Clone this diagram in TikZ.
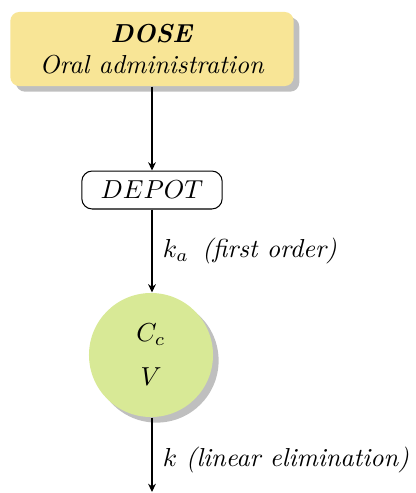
\documentclass[tikz,border=0pt]{standalone}
\usetikzlibrary{shadows,arrows.meta}
\definecolor{doseyellow}{RGB}{248,229,150}
\definecolor{centralgreen}{RGB}{216,233,150}
\begin{document}
\begin{tikzpicture}[x=0.3846pt,y=-0.3846pt,
  dosebox/.style={rectangle, rounded corners=3.5pt, fill=doseyellow,
    drop shadow, minimum width=109pt, minimum height=28.5pt,
    align=center, inner sep=0pt},
  depotbox/.style={rectangle, rounded corners=4pt, draw, thin,
    minimum width=54pt, minimum height=14.6pt, inner sep=0pt},
  compartment/.style={circle, fill=centralgreen, drop shadow,
    minimum size=47.7pt, align=center, inner sep=0pt},
  flow/.style={-{Stealth[length=3.2pt,width=3pt]}, line width=0.4pt},
  ratelabel/.style={right, inner sep=0pt, xshift=4pt}]
\useasboundingbox (0,0) rectangle (416,493);

\node[dosebox] (dose) at (152,49) {\textbf{\textit{DOSE}}\\ \textit{Oral administration}};
\node[depotbox] (depot) at (152,190) {$DEPOT$};
\node[compartment] (central) at (151,355) {$C_c$\\[5pt]$V$};
\coordinate (out) at (152,492);

\draw[flow] (dose.south -| depot.north) -- (depot.north);
\draw[flow] (depot.south) -- (depot.south |- central.north)
  node[ratelabel, midway] {$k_a$\hspace{5pt}\textit{(first order)}};
\draw[flow] (depot.south |- central.south) -- (out);
\node[ratelabel] (klabel) at (152,460) {$k$ \textit{(linear elimination)}};
\end{tikzpicture}
\end{document}
